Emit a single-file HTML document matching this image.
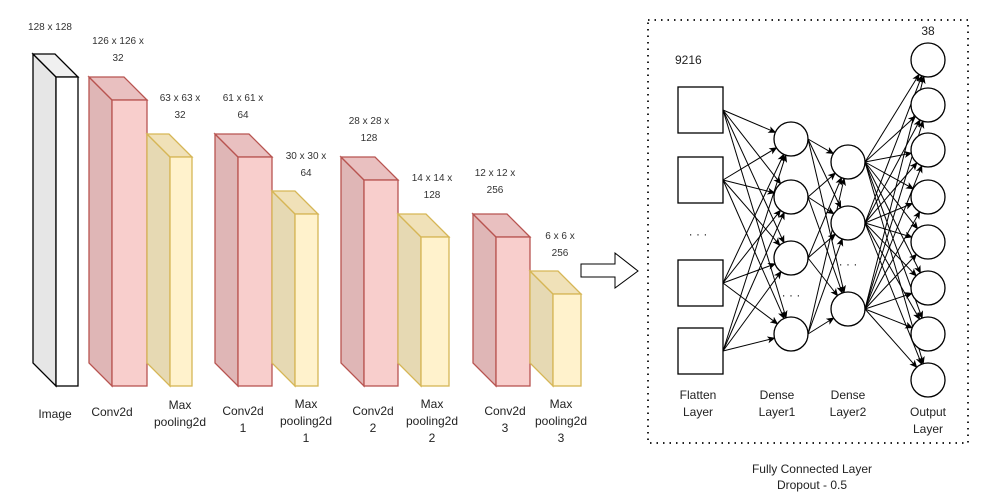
<!DOCTYPE html>
<html><head><meta charset="utf-8"><style>
body{margin:0;background:#fff;}
svg{display:block;font-family:"Liberation Sans",Arial,sans-serif;}
.s{font-size:10px;fill:#333;}
.l{font-size:12px;fill:#222;}
</style></head><body>
<svg id="c" width="987" height="501" viewBox="0 0 987 501">
<defs><marker id="ah" markerWidth="8" markerHeight="8" refX="7" refY="4" orient="auto" markerUnits="userSpaceOnUse"><path d="M0,0.5 L8,4 L0,7.5 L2,4 Z" fill="#000"/></marker></defs>
<g id="blocks"></g>
<g id="fc"></g>
<polygon points="581,264 615,264 615,253 638,271 615,288 615,277 581,277" fill="#fff" stroke="#000" stroke-width="1"/>
<rect x="648" y="20" width="320" height="423" fill="none" stroke="#222" stroke-width="2" stroke-dasharray="1.5 5"/>
<text class="l" x="812" y="473" text-anchor="middle">Fully Connected Layer</text>
<text class="l" x="812" y="489" text-anchor="middle">Dropout - 0.5</text>
</svg>
<script>
const blockNames=['image','conv2d','maxpool','conv2d-1','maxpool-1','conv2d-2','maxpool-2','conv2d-3','maxpool-3'];
const blockX=[56,112,170,238,295,364,421,496,553];
const blockW=[22,35,22,34,23,34,28,34,28];
const blockTop=[77,100,157,157,214,180,237,237,294];
const blockType=['img','conv','pool','conv','pool','conv','pool','conv','pool'];
const dimLabels=[['128 x 128'],['126 x 126 x','32'],['63 x 63 x','32'],['61 x 61 x','64'],['30 x 30 x','64'],['28 x 28 x','128'],['14 x 14 x','128'],['12 x 12 x','256'],['6 x 6 x','256']];
const dimX=[50,118,180,243,306,369,432,495,560];
const dimY=[30,44,101,101,159,124,181,176,239];
const bottomLabels=[['Image'],['Conv2d'],['Max','pooling2d'],['Conv2d','1'],['Max','pooling2d','1'],['Conv2d','2'],['Max','pooling2d','2'],['Conv2d','3'],['Max','pooling2d','3']];
const bottomX=[55,112,180,243,306,373,432,505,561];
const bottomY=[418,416,409,415,408,415,408,415,408];
const NS='http://www.w3.org/2000/svg';
function mk(t,a,p){const e=document.createElementNS(NS,t);for(const k in a)e.setAttribute(k,a[k]);p.appendChild(e);return e;}
const colors={img:['#e6e6e6','#f0f0f0','#fff','#000'],conv:['#dfb6b6','#e9c0c0','#f8cecc','#b85450'],pool:['#e6d9b3','#f0e1b8','#fff2cc','#d6b656']};
const B=document.getElementById('blocks'),D=23,bottom=386;
blockX.forEach((x,i)=>{
 const c=colors[blockType[i]],w=blockW[i],t=blockTop[i];
 const g=mk('g',{},B);
 
 
 mk('polygon',{points:`${x-D},${t-D} ${x},${t} ${x},${bottom} ${x-D},${bottom-D}`,fill:c[0],stroke:c[3],'stroke-width':1.3},g);
 mk('polygon',{points:`${x-D},${t-D} ${x+w-D},${t-D} ${x+w},${t} ${x},${t}`,fill:c[1],stroke:c[3],'stroke-width':1.3},g);
 mk('rect',{x:x,y:t,width:w,height:bottom-t,fill:c[2],stroke:c[3],'stroke-width':1.3},g);
 dimLabels[i].forEach((s,j)=>{const e=mk('text',{class:'s',x:dimX[i],y:dimY[i]+j*17,'text-anchor':'middle'},B);e.textContent=s;
  
  });
 bottomLabels[i].forEach((s,j)=>{const e=mk('text',{class:'l',x:bottomX[i],y:bottomY[i]+j*17,'text-anchor':'middle'},B);e.textContent=s;
  
  });
});
// fully connected
const flatY=[110,180,283,351];
const dense1Y=[139,197,258,334];
const dense2Y=[162,223,309];
const outY=[60,105,150,197,242,288,334,380];
const F=document.getElementById('fc'),R=17;
const fx=700,d1x=791,d2x=848,ox=928;
function line(x1,y1,x2,y2,ty){const dx=x2-x1,dy=y2-y1,L=Math.hypot(dx,dy);
 const e=mk('line',{x1:x1,y1:y1,x2:x2-dx/L*R,y2:y2-dy/L*R,stroke:'#000','stroke-width':1,'marker-end':'url(#ah)'},F);
 
 }
flatY.forEach(a=>dense1Y.forEach(b=>line(fx+23,a,d1x,b,'flatten-dense1')));
dense1Y.forEach(a=>dense2Y.forEach(b=>line(d1x+R,a,d2x,b,'dense1-dense2')));
dense2Y.forEach(a=>outY.forEach(b=>line(d2x+R,a,ox,b,'dense2-output')));
flatY.forEach(y=>{const e=mk('rect',{x:fx-22,y:y-23,width:45,height:46,fill:'#fff',stroke:'#000','stroke-width':1.3},F);
 
 });
function circ(x,arr,nm){arr.forEach(y=>{const e=mk('circle',{cx:x,cy:y,r:R,fill:'#fff',stroke:'#000','stroke-width':1.3},F);
 
 });}
circ(d1x,dense1Y,'dense1-node');circ(d2x,dense2Y,'dense2-node');circ(ox,outY,'output-node');
const txt=[['9216',675,64,'start','flatten-size'],['38',928,35,'middle','output-size'],['· · ·',698,238,'middle','flatten-ellipsis'],['· · ·',791,299,'middle','dense1-ellipsis'],['· · ·',848,268,'middle','dense2-ellipsis'],
['Flatten',698,399,'middle','flatten-label'],['Layer',698,416,'middle','flatten-label'],['Dense',777,399,'middle','dense1-label'],['Layer1',777,416,'middle','dense1-label'],
['Dense',848,399,'middle','dense2-label'],['Layer2',848,416,'middle','dense2-label'],['Output',928,416,'middle','output-label'],['Layer',928,433,'middle','output-label']];
txt.forEach(t=>{const e=mk('text',{class:'l',x:t[1],y:t[2],'text-anchor':t[3]},F);e.textContent=t[0];
 
 });
</script>
</body></html>
